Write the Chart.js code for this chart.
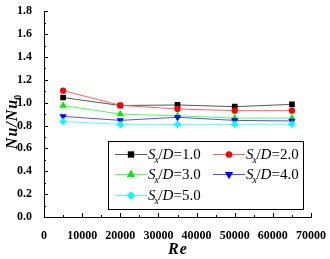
<!DOCTYPE html>
<html><head><meta charset="utf-8">
<script src="https://cdn.jsdelivr.net/npm/chart.js@4/dist/chart.umd.min.js"></script>
<style>html,body{margin:0;padding:0;background:#fff}#wrap{width:330px;height:259px}</style>
</head><body><div id="wrap"><canvas id="c" width="330" height="259"></canvas></div>
<script>
const re = [5000, 20000, 35000, 50000, 65000];
const sx10 = [1.045, 0.975, 0.98, 0.965, 0.985];
const sx20 = [1.105, 0.977, 0.945, 0.93, 0.93];
const sx30 = [0.975, 0.90, 0.885, 0.865, 0.865];
const sx40 = [0.88, 0.845, 0.872, 0.845, 0.84];
const sx50 = [0.835, 0.81, 0.81, 0.81, 0.812];
const seriesLabels = ['1.0', '2.0', '3.0', '4.0', '5.0'];
const seriesValues = [sx10, sx20, sx30, sx40, sx50];
const colors = ['#000000', '#ff0000', '#00ee00', '#0000ff', '#00ffff'];
const lineColors = ['#555555', '#ff6060', '#50ff50', '#5050ff', '#50ffff'];
const styles = ['rect', 'circle', 'triangle', 'triangle', 'rectRot'];
const rotations = [0, 0, 0, 180, 0];
const radii = [4, 3.1, 4.2, 4.2, 3.8];
const legendRadii = [4.5, 3.2, 4.8, 4.8, 4.3];

const serif = '"Liberation Serif", "DejaVu Serif", serif';

const datasets = seriesValues.map((vals, i) => ({
  label: 'Sx/D=' + seriesLabels[i],
  data: re.map((x, j) => ({x: x, y: vals[j]})),
  borderColor: lineColors[i],
  backgroundColor: colors[i],
  pointBackgroundColor: colors[i],
  pointBorderColor: colors[i],
  pointStyle: styles[i],
  rotation: rotations[i],
  pointRadius: radii[i],
  borderWidth: 1,
  pointBorderWidth: 0,
  order: 4 - i,
  tension: 0
}));

function drawSxLabel(ctx, x, y, val) {
  ctx.textBaseline = 'middle';
  ctx.textAlign = 'left';
  ctx.fillStyle = '#000';
  ctx.font = 'italic 15px ' + serif;
  ctx.fillText('S', x, y);
  x += ctx.measureText('S').width;
  ctx.font = 'italic 10px ' + serif;
  ctx.fillText('x', x - 1, y + 5);
  x += ctx.measureText('x').width - 1.5;
  ctx.font = '15px ' + serif;
  ctx.fillText('/', x, y);
  x += ctx.measureText('/').width;
  ctx.font = 'italic 15px ' + serif;
  ctx.fillText('D', x, y);
  x += ctx.measureText('D').width;
  ctx.font = '15px ' + serif;
  ctx.fillText('=' + val, x, y);
}

const custom = {
  id: 'custom',
  afterDraw(chart) {
    const ctx = chart.ctx;
    const xs = chart.scales.x, ys = chart.scales.y;
    const ca = chart.chartArea;
    ctx.save();
    ctx.strokeStyle = '#000';
    ctx.lineWidth = 1;
    for (let v = 0; v <= 18; v++) {
      const py = Math.round(ys.getPixelForValue(v / 10)) + 0.5;
      const len = (v % 2 === 0) ? 4 : 2;
      ctx.beginPath();
      ctx.moveTo(ca.left, py);
      ctx.lineTo(ca.left + len, py);
      ctx.stroke();
    }
    for (let v = 0; v <= 70000; v += 5000) {
      const px = Math.round(xs.getPixelForValue(v)) + 0.5;
      const len = (v % 10000 === 0) ? 4 : 2;
      ctx.beginPath();
      ctx.moveTo(px, ca.bottom);
      ctx.lineTo(px, ca.bottom - len);
      ctx.stroke();
    }
    // y title
    ctx.save();
    ctx.translate(13, 121);
    ctx.rotate(-Math.PI / 2);
    ctx.fillStyle = '#000';
    ctx.textBaseline = 'middle';
    ctx.textAlign = 'left';
    ctx.letterSpacing = '1px';
    ctx.font = 'bold italic 16px ' + serif;
    const t1 = 'Nu/Nu';
    const w1 = ctx.measureText(t1).width;
    ctx.font = 'bold 10px ' + serif;
    const w2 = ctx.measureText('0').width;
    const sx = -(w1 + w2) / 2;
    ctx.font = 'bold italic 16px ' + serif;
    ctx.fillText(t1, sx, 0);
    ctx.font = 'bold 10px ' + serif;
    ctx.fillText('0', sx + w1 - 1, 5);
    ctx.restore();
    // x title
    ctx.save();
    ctx.fillStyle = '#000';
    ctx.letterSpacing = '1px';
    ctx.font = 'bold italic 16px ' + serif;
    ctx.textAlign = 'center';
    ctx.textBaseline = 'middle';
    ctx.fillText('Re', (ca.left + ca.right) / 2 + 0.5, 250);
    ctx.restore();
    // legend box
    ctx.strokeStyle = '#000';
    ctx.lineWidth = 1;
    ctx.fillStyle = '#fff';
    ctx.fillRect(108.5, 141.5, 195, 68);
    ctx.strokeRect(108.5, 141.5, 195, 68);
    const pos = [[115, 154], [213, 154], [115, 174], [213, 174], [115, 195]];
    datasets.forEach((d, i) => {
      const [lx, ly] = pos[i];
      ctx.strokeStyle = lineColors[i];
      ctx.lineWidth = 1;
      ctx.beginPath();
      ctx.moveTo(lx, ly + 0.5);
      ctx.lineTo(lx + 32, ly + 0.5);
      ctx.stroke();
      ctx.fillStyle = colors[i];
      ctx.strokeStyle = colors[i];
      Chart.helpers.drawPoint(ctx, {pointStyle: styles[i], radius: legendRadii[i], rotation: rotations[i], borderWidth: 0}, lx + 16, ly + 0.5);
      drawSxLabel(ctx, lx + 33, ly + 1, seriesLabels[i]);
    });
    ctx.restore();
  }
};

new Chart(document.getElementById('c'), {
  type: 'line',
  data: { datasets: datasets },
  options: {
    responsive: false,
    animation: false,
    devicePixelRatio: 1,
    layout: { padding: { left: 0, right: 18.5, top: 11, bottom: 0 } },
    plugins: { legend: { display: false }, tooltip: { enabled: false } },
    scales: {
      x: {
        type: 'linear', min: 0, max: 70000,
        grid: { display: false },
        border: { display: true, color: '#000', width: 1 },
        ticks: { stepSize: 10000, color: '#000', padding: 4, maxRotation: 0,
          font: { family: serif, size: 12, weight: 'bold' },
          callback: v => String(v) },
        afterFit: s => { s.height = 42; }
      },
      y: {
        type: 'linear', min: 0, max: 1.8,
        grid: { display: false },
        border: { display: true, color: '#000', width: 1 },
        ticks: { stepSize: 0.2, color: '#000', padding: 4,
          font: { family: serif, size: 12, weight: 'bold' },
          callback: v => Number(v).toFixed(1) },
        afterFit: s => { s.width = 44; }
      }
    }
  },
  plugins: [custom]
});
</script></body></html>
